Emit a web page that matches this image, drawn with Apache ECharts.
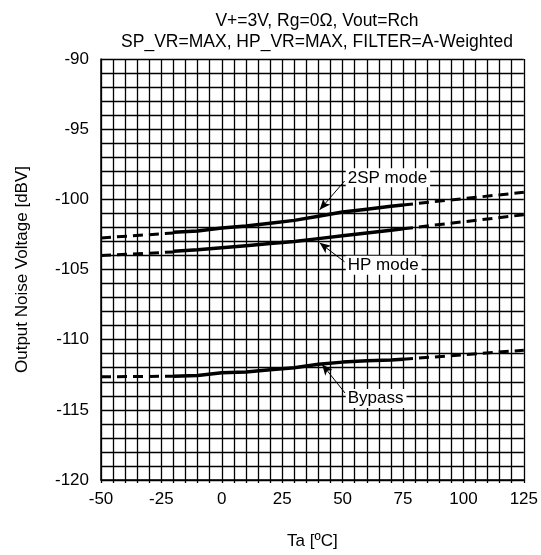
<!DOCTYPE html>
<html>
<head>
<meta charset="utf-8">
<script src="https://cdn.jsdelivr.net/npm/echarts@6/dist/echarts.min.js"></script>
<style>
html,body{margin:0;padding:0;background:#fff;}
#chart{width:541px;height:555px;}
</style>
</head>
<body>
<div id="chart"></div>
<script>
// ---- Data ----
const titleLines = ['V+=3V, Rg=0\u03a9, Vout=Rch', 'SP_VR=MAX, HP_VR=MAX, FILTER=A-Weighted'];
const xTicks = [-50, -25, 0, 25, 50, 75, 100, 125];
const yTicks = [-120, -115, -110, -105, -100, -95, -90];

const tempSolid = [-20, -10, 0, 10, 20, 30, 40, 50, 60, 70, 75];
const sp2Solid    = [-102.35, -102.25, -102.05, -101.9, -101.7, -101.5, -101.2, -100.9, -100.7, -100.5, -100.4];
const hpSolid     = [-103.7, -103.6, -103.45, -103.3, -103.15, -103.0, -102.8, -102.6, -102.4, -102.2, -102.1];
const bypassSolid = [-112.6, -112.55, -112.35, -112.3, -112.15, -112.0, -111.75, -111.6, -111.5, -111.45, -111.4];

const tempDashLeft = [-50, -20];
const tempDashRight = [75, 125];
const sp2DashLeft = [-102.75, -102.4];
const sp2DashRight = [-100.4, -99.5];
const hpDashLeft = [-104.0, -103.75];
const hpDashRight = [-102.1, -101.1];
const bypassDashLeft = [-112.65, -112.6];
const bypassDashRight = [-111.4, -110.75];

// annotations
const annotLabels = ['2SP mode', 'HP mode', 'Bypass'];
const annotLabelX = [51.3, 51.3, 51.3];
const annotLabelY = [-98.47, -104.7, -114.2];
const annotTailX = [50.8, 50.8, 51.0];
const annotTailY = [-98.7, -104.45, -113.8];
const annotTipX = [40.5, 40.5, 41.5];
const annotTipY = [-100.75, -103.1, -111.75];

// ---- Build ----
const zip = (xs, ys) => xs.map((x, i) => [x, ys[i]]);
const FONT = 'Liberation Sans, Arial, sans-serif';
const FS = 17;

function solid(name, ys) {
  return { name, type: 'line', data: zip(tempSolid, ys), symbol: 'none',
    lineStyle: { color: '#000', width: 3.5, type: 'solid' }, z: 5, animation: false };
}
function dashed(name, xs, ys) {
  return { name, type: 'line', data: zip(xs, ys), symbol: 'none',
    lineStyle: { color: '#000', width: 3, type: [10, 6] }, z: 5, animation: false };
}

const annotSeries = {
  type: 'scatter', data: [], symbolSize: 0, z: 10, animation: false,
  markLine: {
    silent: true, animation: false,
    symbol: ['none', 'arrow'], symbolSize: [7, 11],
    lineStyle: { color: '#000', width: 1, type: 'solid' },
    label: { show: false },
    data: annotLabels.map((l, i) => [
      { coord: [annotTailX[i], annotTailY[i]] },
      { coord: [annotTipX[i], annotTipY[i]] }
    ])
  },
  markPoint: {
    silent: true, animation: false, symbol: 'rect', symbolSize: 0,
    label: {
      show: true, position: 'inside', align: 'left', verticalAlign: 'middle',
      color: '#000', fontFamily: FONT, fontSize: FS,
      backgroundColor: '#fff', padding: [1, 3, 1, 2],
      formatter: p => p.name
    },
    data: annotLabels.map((l, i) => ({ name: l, coord: [annotLabelX[i], annotLabelY[i]] }))
  }
};

const option = {
  backgroundColor: '#fff',
  animation: false,
  title: {
    text: titleLines.join('\n'),
    left: 312, top: 6, textAlign: 'center',
    textStyle: { fontFamily: FONT, fontSize: 17.5, fontWeight: 'normal', color: '#000', lineHeight: 21 }
  },
  grid: { left: 101, right: 17, top: 59, bottom: 71, containLabel: false },
  xAxis: {
    type: 'value', min: xTicks[0], max: xTicks[xTicks.length - 1], interval: 25,
    name: 'Ta [\u00baC]', nameLocation: 'middle', nameGap: 53,
    nameTextStyle: { fontFamily: FONT, fontSize: FS, color: '#000' },
    axisLine: { show: true, onZero: false, lineStyle: { color: '#000', width: 1.5 } },
    axisTick: { show: true, length: 3, lineStyle: { color: '#000', width: 1.3 } },
    minorTick: { show: true, splitNumber: 5, length: 3, lineStyle: { color: '#000', width: 1.3 } },
    splitLine: { show: true, lineStyle: { color: '#000', width: 1.3 } },
    minorSplitLine: { show: true, lineStyle: { color: '#000', width: 1.3 } },
    axisLabel: { fontFamily: FONT, fontSize: FS, color: '#000', margin: 11 }
  },
  yAxis: {
    type: 'value', min: yTicks[0], max: yTicks[yTicks.length - 1], interval: 5,
    name: 'Output Noise Voltage [dBV]', nameLocation: 'middle', nameGap: 70, nameRotate: 90,
    nameTextStyle: { fontFamily: FONT, fontSize: FS, color: '#000' },
    axisLine: { show: true, onZero: false, lineStyle: { color: '#000', width: 1.5 } },
    axisTick: { show: false },
    minorTick: { show: false, splitNumber: 5 },
    splitLine: { show: true, lineStyle: { color: '#000', width: 1.3 } },
    minorSplitLine: { show: true, lineStyle: { color: '#000', width: 1.3 } },
    axisLabel: { fontFamily: FONT, fontSize: FS, color: '#000', margin: 12 }
  },
  series: [
    dashed('2SP L', tempDashLeft, sp2DashLeft),
    solid('2SP mode', sp2Solid),
    dashed('2SP R', tempDashRight, sp2DashRight),
    dashed('HP L', tempDashLeft, hpDashLeft),
    solid('HP mode', hpSolid),
    dashed('HP R', tempDashRight, hpDashRight),
    dashed('Bypass L', tempDashLeft, bypassDashLeft),
    solid('Bypass', bypassSolid),
    dashed('Bypass R', tempDashRight, bypassDashRight),
    annotSeries
  ]
};

const chart = echarts.init(document.getElementById('chart'), null, { renderer: 'canvas' });
chart.setOption(option);
</script>
</body>
</html>
